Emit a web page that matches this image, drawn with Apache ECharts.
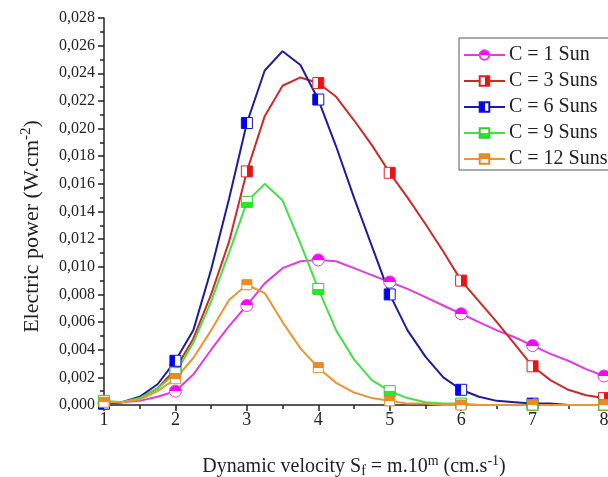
<!DOCTYPE html>
<html>
<head>
<meta charset="utf-8">
<script src="https://cdn.jsdelivr.net/npm/echarts@6/dist/echarts.min.js"></script>
<style>html,body{margin:0;padding:0;background:#fff;}#chart{width:608px;height:477px;}</style>
</head>
<body>
<div id="chart"></div>
<script>
const xValues = [1,1.25,1.5,1.75,2,2.25,2.5,2.75,3,3.25,3.5,3.75,4,4.25,4.5,4.75,5,5.25,5.5,5.75,6,6.25,6.5,6.75,7,7.25,7.5,7.75,8];
const sun1  = [0.0001,0.0002,0.0003,0.0006,0.0010,0.0022,0.0040,0.0057,0.0072,0.0088,0.0099,0.0104,0.0105,0.0104,0.0099,0.0094,0.0089,0.0084,0.0078,0.0072,0.0066,0.0060,0.0054,0.0049,0.0043,0.0037,0.0032,0.0026,0.0021];
const sun3  = [0.0001,0.0002,0.0005,0.0012,0.0026,0.0048,0.0080,0.0118,0.0169,0.0209,0.0231,0.0237,0.0233,0.0223,0.0206,0.0188,0.0168,0.0150,0.0131,0.0111,0.0090,0.0075,0.0060,0.0044,0.0028,0.0018,0.0011,0.0007,0.0005];
const sun6  = [0.0001,0.0002,0.0006,0.0015,0.0032,0.0054,0.0098,0.0149,0.0204,0.0242,0.0256,0.0246,0.0221,0.0187,0.0150,0.0115,0.0080,0.0054,0.0035,0.0020,0.0011,0.0006,0.0003,0.0002,0.0001,0.0001,0,0,0];
const sun9  = [0.0003,0.0002,0.0005,0.0012,0.0023,0.0045,0.0075,0.0110,0.0147,0.0160,0.0148,0.0117,0.0084,0.0054,0.0033,0.0018,0.0010,0.0005,0.0002,0.0001,0.0001,0,0,0,0,0,0,0,0];
const sun12 = [0.0002,0.0002,0.0004,0.0010,0.0019,0.0034,0.0054,0.0076,0.0087,0.0081,0.0060,0.0041,0.0027,0.0016,0.0009,0.0005,0.0003,0.0001,0.0001,0,0,0,0,0,0,0,0,0,0];
const seriesNames = ['C = 1 Sun','C = 3 Suns','C = 6 Suns','C = 9 Suns','C = 12 Suns'];
const yTicks = {min: 0, max: 0.028, step: 0.002};
const xTicks = {min: 1, max: 8, step: 1};

const FONT = 'Liberation Serif';
function half(dir, c1, c2) {
  const g = dir === 'h' ? {x:0,y:0,x2:1,y2:0} : {x:0,y:0,x2:0,y2:1};
  return Object.assign({type:'linear', colorStops:[
    {offset:0,color:c1},{offset:0.5,color:c1},{offset:0.5,color:c2},{offset:1,color:c2}]}, g);
}
const styles = [
  {line:'#e03ce0', border:'#e03ce0', fill: half('v','#ff00ff','#ffffff'), symbol:'circle', size:12},
  {line:'#cc2a2a', border:'#dd2222', fill: half('h','#ffffff','#ee1111'), symbol:'rect', size:11},
  {line:'#1c1c9e', border:'#1010d0', fill: half('h','#0000ff','#ffffff'), symbol:'rect', size:11},
  {line:'#44e044', border:'#33cc33', fill: half('v','#ffffff','#22ee22'), symbol:'rect', size:11},
  {line:'#ee9433', border:'#e08a2a', fill: half('v','#ee8a22','#ffffff'), symbol:'rect', size:10}
];
const allData = [sun1, sun3, sun6, sun9, sun12];

const series = allData.map((vals, i) => ({
  name: seriesNames[i],
  type: 'line',
  data: xValues.map((x, j) => [x, vals[j]]),
  symbol: styles[i].symbol,
  symbolSize: (v) => Number.isInteger(v[0]) ? styles[i].size : 0,
  showAllSymbol: true,
  lineStyle: {color: styles[i].line, width: 2},
  itemStyle: {color: styles[i].fill, borderColor: styles[i].border, borderWidth: 1},
  emphasis: {disabled: true},
  animation: false
}));

const chart = echarts.init(document.getElementById('chart'), null, {renderer: 'canvas'});
chart.setOption({
  backgroundColor: '#ffffff',
  animation: false,
  grid: {left: 104, right: 4, top: 18, bottom: 72, containLabel: false, outerBoundsMode: 'none'},
  legend: {
    orient: 'vertical', left: 459, top: 38,
    data: seriesNames,
    backgroundColor: '#ffffff', borderColor: '#555', borderWidth: 1,
    padding: [7, 10, 1, 4], itemWidth: 41, itemHeight: 12, itemGap: 6,
    textStyle: {fontFamily: FONT, fontSize: 20, color: '#222', padding: [0, 0, 0, -1]}
  },
  xAxis: {
    type: 'value', min: xTicks.min, max: xTicks.max, interval: xTicks.step,
    axisLine: {lineStyle: {color: '#222', width: 1.5}},
    axisTick: {show: true, inside: false, length: 6, lineStyle: {color: '#222', width: 1.5}},
    minorTick: {show: true, splitNumber: 2, length: 4, lineStyle: {color: '#222', width: 1.5}},
    splitLine: {show: false},
    axisLabel: {fontFamily: FONT, fontSize: 18, color: '#222', margin: 6},
    name: '{a|Dynamic velocity S}{sub|f}{a| = m.10}{sup|m}{a| (cm.s}{sup|-1}{a|)}',
    nameLocation: 'middle', nameGap: 49, nameMoveOverlap: false,
    nameTextStyle: {
      rich: {
        a: {fontFamily: FONT, fontSize: 20, color: '#222'},
        sub: {fontFamily: FONT, fontSize: 14, color: '#222', padding: [9, 0, 0, 0]},
        sup: {fontFamily: FONT, fontSize: 14, color: '#222', padding: [0, 0, 11, 0]}
      }
    }
  },
  yAxis: {
    type: 'value', min: yTicks.min, max: yTicks.max, interval: yTicks.step,
    axisLine: {show: true, lineStyle: {color: '#222', width: 1.5}},
    axisTick: {show: true, inside: false, length: 6, lineStyle: {color: '#222', width: 1.5}},
    minorTick: {show: true, splitNumber: 2, length: 4, lineStyle: {color: '#222', width: 1.5}},
    splitLine: {show: false},
    axisLabel: {fontFamily: FONT, fontSize: 16, color: '#222', margin: 9,
      formatter: (v) => v.toFixed(3).replace('.', ',')},
    name: '{a|Electric power (W.cm}{sup|-2}{a|)}',
    nameLocation: 'middle', nameRotate: 90, nameGap: 58, nameMoveOverlap: false,
    nameTextStyle: {
      padding: [0, 30, 0, 0],
      rich: {
        a: {fontFamily: FONT, fontSize: 22, color: '#222'},
        sup: {fontFamily: FONT, fontSize: 15, color: '#222', padding: [0, 0, 12, 0]}
      }
    }
  },
  series: series
});
</script>
</body>
</html>
